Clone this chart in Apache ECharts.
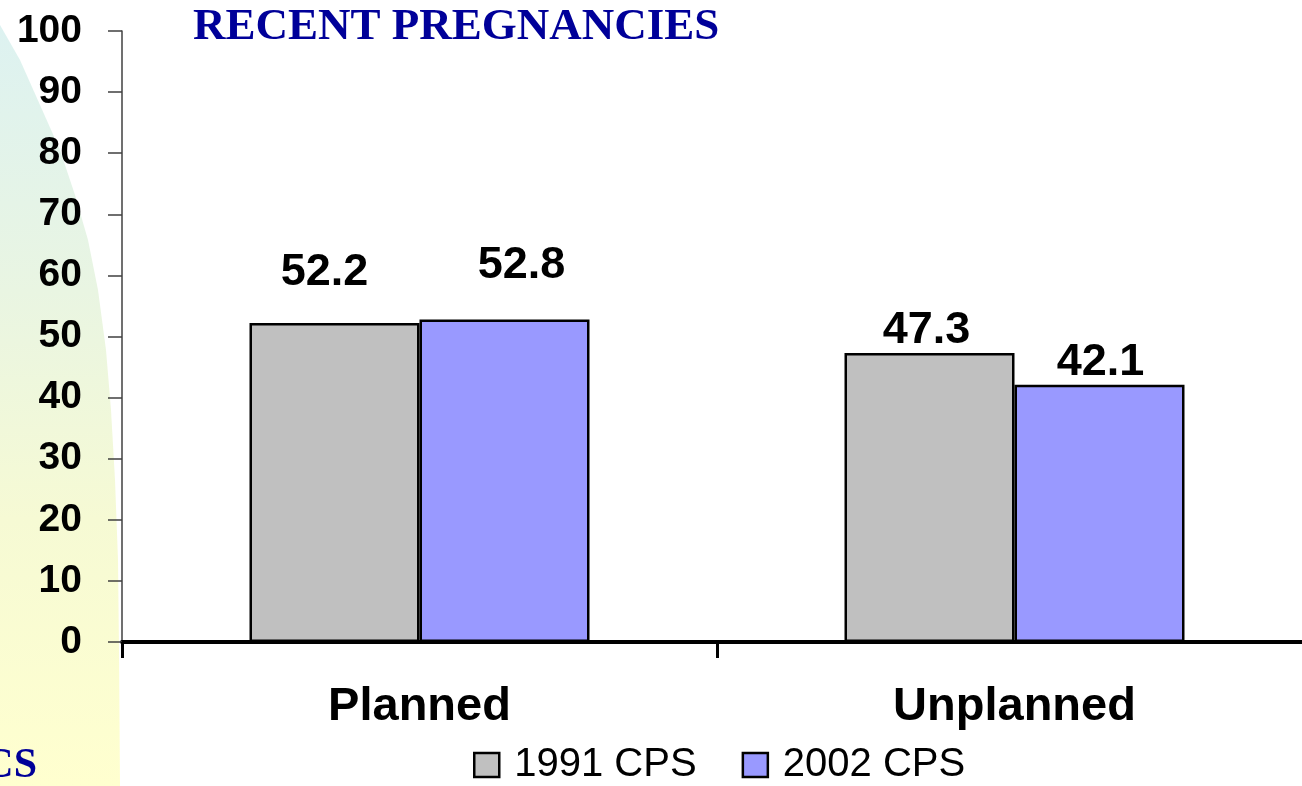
<!DOCTYPE html>
<html><head><meta charset="utf-8">
<script src="https://cdn.jsdelivr.net/npm/echarts@6/dist/echarts.min.js"></script>
<style>html,body{margin:0;padding:0;background:#fff}#c{width:1302px;height:786px}</style>
</head><body><div id="c"></div>
<script>
const categories = ['Planned', 'Unplanned'];
const seriesNames = ['1991 CPS', '2002 CPS'];
const values1991 = [52.2, 47.3];
const values2002 = [52.8, 42.1];
const yTicks = [0, 10, 20, 30, 40, 50, 60, 70, 80, 90, 100];
const titleText = 'RECENT PREGNANCIES';
const cornerText = 'CS';

// label nudges (style only): [dx, dy, distance]
const nudge1991 = [[-10, 0, 28], [-3, 0, 0]];
const nudge2002 = [[17, 0, 31], [1, 0, 0]];

const labelFont = {fontFamily: 'Liberation Sans', fontWeight: 'bold', fontSize: 45, color: '#000'};

function build(vals, nudges) {
  return vals.map((v, i) => ({
    value: v,
    label: {distance: nudges[i][2], offset: [nudges[i][0], nudges[i][1]]}
  }));
}

const chart = echarts.init(document.getElementById('c'), null, {renderer: 'canvas'});
chart.setOption({
  animation: false,
  backgroundColor: '#ffffff',
  title: {
    text: titleText, left: 188, top: 0,
    textStyle: {fontFamily: 'Liberation Serif', fontWeight: 'bold', fontSize: 45, color: '#000099'}
  },
  graphic: [
    {
      type: 'polygon', z: -10, silent: true,
      shape: {points: [[0, 25], [20, 60], [40, 105], [60, 150], [75, 195], [88, 240], [98, 290], [106, 350], [111, 410], [115, 480], [118, 560], [119, 650], [120, 786], [0, 786]]},
      style: {fill: {type: 'linear', x: 0, y: 0, x2: 0, y2: 1, colorStops: [
        {offset: 0, color: '#ddf2f1'}, {offset: 0.35, color: '#e9f5e2'}, {offset: 0.65, color: '#f6fad4'}, {offset: 1, color: '#ffffcf'}]}}
    },
    {
      type: 'text', right: 1302 - 37, top: 745, z: 10, silent: true,
      style: {text: cornerText, fontFamily: 'Liberation Serif', fontWeight: 'bold', fontSize: 42, fill: '#000099', textAlign: 'right'}
    }
  ],
  legend: {
    data: seriesNames, left: 473, top: 745, padding: 0,
    itemWidth: 25, itemHeight: 24, itemGap: 45, icon: 'rect',
    itemStyle: {borderColor: '#000', borderWidth: 2.5},
    textStyle: {fontFamily: 'Liberation Sans', fontSize: 40, color: '#000', padding: [0, 0, 0, 10]}
  },
  grid: {left: 122, top: 31, width: 1190, height: 611, containLabel: false, outerBoundsMode: 'none'},
  xAxis: {
    type: 'category', data: categories,
    axisLine: {lineStyle: {color: '#000', width: 4}},
    axisTick: {show: true, alignWithLabel: false, length: 16, lineStyle: {color: '#000', width: 3}},
    axisLabel: {margin: 42, fontFamily: 'Liberation Sans', fontWeight: 'bold', fontSize: 47, color: '#000'},
    splitLine: {show: false}
  },
  yAxis: {
    type: 'value', min: 0, max: 100, interval: 10,
    axisLine: {show: true, lineStyle: {color: '#404040', width: 1.5}},
    axisTick: {show: true, length: 14, lineStyle: {color: '#404040', width: 1.5}},
    axisLabel: {margin: 40, fontFamily: 'Liberation Sans', fontWeight: 'bold', fontSize: 39, color: '#000',
      formatter: v => yTicks.includes(v) ? String(v) : ''},
    splitLine: {show: false}
  },
  series: [
    {
      name: seriesNames[0], type: 'bar', data: build(values1991, nudge1991),
      barWidth: 170, barGap: '0%',
      itemStyle: {color: '#c0c0c0', borderColor: '#000', borderWidth: 2.5},
      label: Object.assign({show: true, position: 'top'}, labelFont)
    },
    {
      name: seriesNames[1], type: 'bar', data: build(values2002, nudge2002),
      barWidth: 170, barGap: '0%',
      itemStyle: {color: '#9999ff', borderColor: '#000', borderWidth: 2.5},
      label: Object.assign({show: true, position: 'top'}, labelFont)
    }
  ]
});
</script></body></html>
